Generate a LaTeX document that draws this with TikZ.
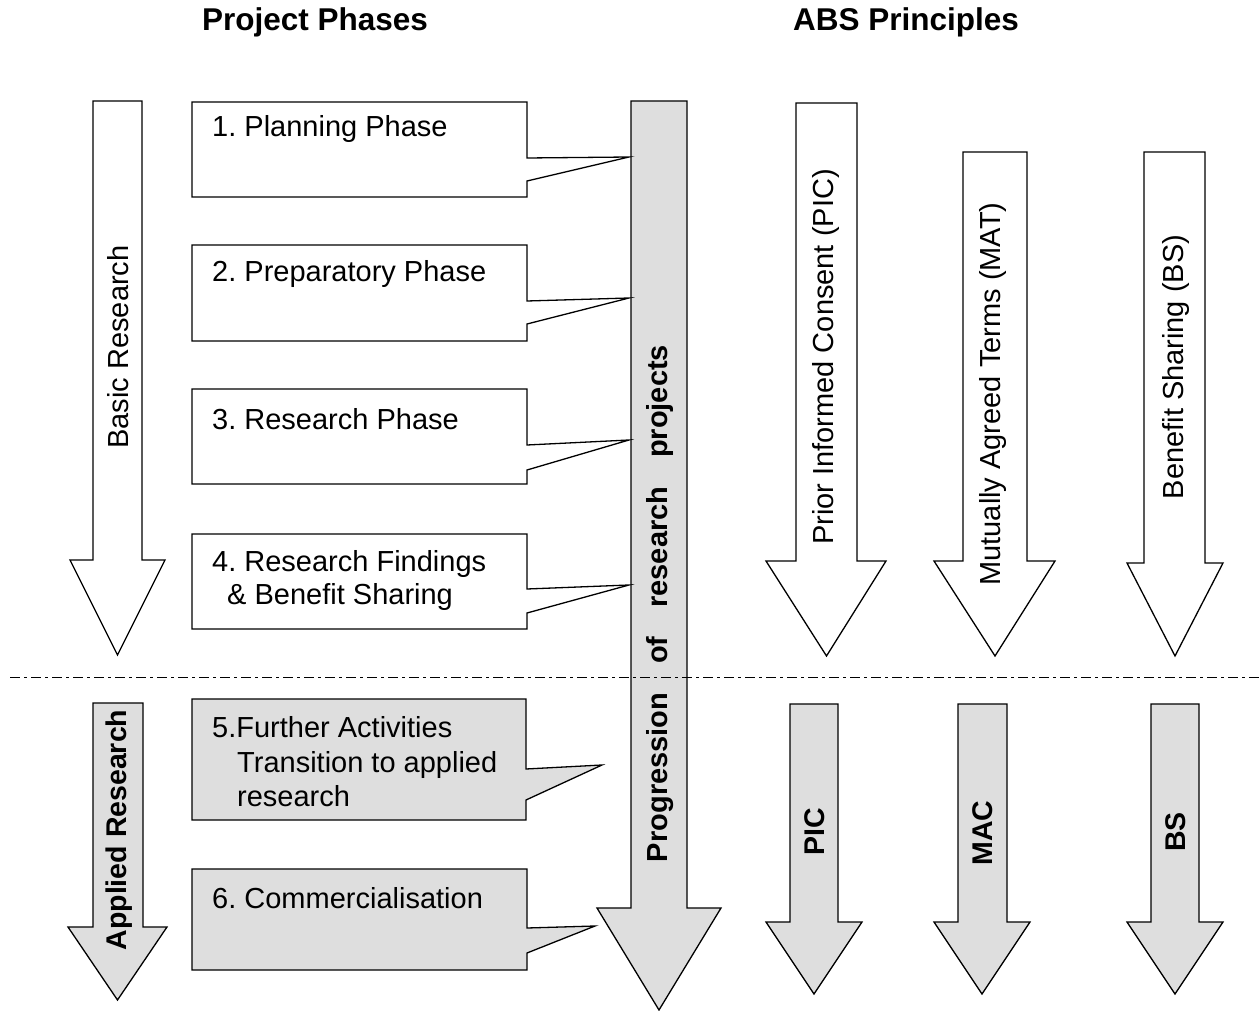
\documentclass[tikz,border=0pt]{standalone}
\usepackage{fontspec}
\setmainfont{Liberation Sans}
\frenchspacing
\newcommand\callbox[8]{\draw[boxline,fill=#8] (#1,#2) -- (#3,#2) -- (#3,#5) -- (#7) -- (#3,#6) -- (#3,#4) -- (#1,#4) -- cycle;}
\newcommand\darrowpath[9]{\draw[boxline,fill=#9] (#1,#3) -- (#2,#3) -- (#2,#4) -- (#6,#4) -- (#7,#8) -- (#5,#4) -- (#1,#4) -- cycle;}
\begin{document}
\frenchspacing
\begin{tikzpicture}[x=1pt,y=-1pt,
  boxline/.style={draw=black,line width=1.3pt,line join=miter},
  bodytext/.style={inner sep=0pt,font=\fontsize{29}{34.5}\selectfont\frenchspacing,align=left},
  boldtext/.style={inner sep=0pt,font=\fontsize{29}{34}\selectfont\bfseries},
  titletext/.style={inner sep=0pt,font=\fontsize{31.5}{36}\selectfont\bfseries},
  vtext/.style={inner sep=0pt,rotate=90,font=\fontsize{29}{34}\selectfont},
  vbold/.style={inner sep=0pt,rotate=90,font=\fontsize{28.5}{34}\selectfont\bfseries},
  sepline/.style={line width=1pt,dash pattern=on 10pt off 4pt on 3pt off 4pt}]
\useasboundingbox (0,0) rectangle (1259,1011);
\colorlet{lgray}{black!13}

% titles
\node[titletext] (t1) at (315,22) {Project Phases};
\node[titletext] (t2) at (906,22) {ABS Principles};

% left arrows
\darrowpath{93}{142}{101}{560}{70}{165}{117.5}{655}{white}
\darrowpath{93}{143}{703}{927}{68}{167}{117.5}{1000}{lgray}
\node[vtext] (basic) at (118,347) {Basic Research};
\node[vbold] (applied) at (119,830) {Applied Research};

% progression arrow
\darrowpath{631}{687}{101}{908}{597}{721}{659}{1010}{lgray}
\node[vbold,font=\fontsize{29}{34}\selectfont\bfseries,text width=517pt,align=left] (prog) at (660,603.5)
  {Progression\hfill of\hfill research\hfill projects};

% callout tips
\coordinate (p1) at (629,157);
\coordinate (p2) at (629,298);
\coordinate (p3) at (629,440);
\coordinate (p4) at (629,585);
\coordinate (p5) at (602,765);
\coordinate (p6) at (595,926);

% callout boxes
\callbox{192}{102}{527}{197}{158}{181}{p1}{white}
\callbox{192}{245}{527}{341}{301}{324}{p2}{white}
\callbox{192}{389}{527}{484}{445}{470}{p3}{white}
\callbox{192}{534}{527}{629}{589}{613}{p4}{white}
\callbox{192}{699}{526}{820}{769}{800}{p5}{lgray}
\callbox{192}{869}{527}{970}{928}{953}{p6}{lgray}

\node[bodytext,anchor=west] (b1) at (212,129) {1. Planning Phase};
\node[bodytext,anchor=west] (b2) at (212,274) {2. Preparatory Phase};
\node[bodytext,anchor=west] (b3) at (212,419) {3. Research Phase};
\node[bodytext,anchor=west,font=\fontsize{29}{33}\selectfont\frenchspacing] (b4) at (212,580)
  {4. Research Findings\\\hspace*{15pt}\& Benefit Sharing};
\node[bodytext,anchor=west] (b5) at (212,762)
  {5.Further Activities\\\hspace*{25pt}Transition to applied\\\hspace*{25pt}research};
\node[bodytext,anchor=west] (b6) at (212,898) {6. Commercialisation};

% ABS white arrows
\darrowpath{796}{857}{103}{561}{766}{886}{826.5}{656}{white}
\darrowpath{963}{1027}{152}{561}{934}{1055}{995}{656}{white}
\darrowpath{1144}{1205}{152}{563}{1127}{1223}{1175}{656}{white}
\node[vtext] (pic) at (826,357) {Prior Informed Consent (PIC)};
\node[vtext] (mat) at (993,394) {Mutually Agreed Terms (MAT)};
\node[vtext] (bs) at (1176,367) {Benefit Sharing (BS)};

% ABS gray arrows
\darrowpath{790}{838}{704}{922}{766}{862}{814}{994}{lgray}
\darrowpath{958}{1007}{704}{922}{934}{1030}{982}{994}{lgray}
\darrowpath{1151}{1199}{704}{922}{1127}{1223}{1175}{994}{lgray}
\node[vbold] (pic2) at (815,832) {PIC};
\node[vbold] (mac) at (983,833) {MAC};
\node[vbold] (bs2) at (1176,832) {BS};

% separator
\coordinate (sl) at (10,677);
\coordinate (sr) at (1259,677);
\draw[sepline] (sl) -- (sr);
\end{tikzpicture}
\end{document}
